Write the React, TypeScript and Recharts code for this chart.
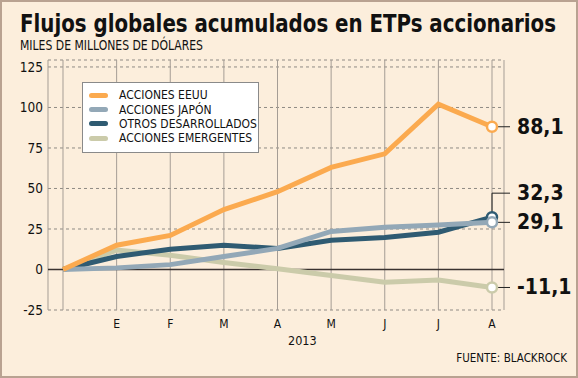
import React from 'react';
import {
  LineChart, Line, XAxis, YAxis, CartesianGrid, ReferenceLine
} from 'recharts';

const months = ['', 'E', 'F', 'M', 'A', 'M', 'J', 'J', 'A'];
const accionesEeuu = [0, 15, 21, 37, 48, 63, 71.4, 102, 88.1];
const accionesJapon = [0, 1, 3, 8, 13, 23.5, 26, 27.5, 29.1];
const otrosDesarrollados = [0, 8, 12.5, 15, 13, 18, 19.8, 23, 32.3];
const accionesEmergentes = [0, 12, 8.8, 4.3, 0.5, -3.7, -7.8, -6.5, -11.1];
const yTicks = [-25, 0, 25, 50, 75, 100, 125];

const FONT = '"DejaVu Sans Condensed", "DejaVu Sans", sans-serif';

// legend order (top to bottom)
const series = [
  { key: 'eeuu', name: 'ACCIONES EEUU', color: '#FBAA4F', values: accionesEeuu },
  { key: 'japon', name: 'ACCIONES JAPÓN', color: '#93A8B7', values: accionesJapon },
  { key: 'otros', name: 'OTROS DESARROLLADOS', color: '#2F5B72', values: otrosDesarrollados },
  { key: 'emerg', name: 'ACCIONES EMERGENTES', color: '#CBCBAA', values: accionesEmergentes },
];

const data = months.map((m, i) => {
  const row: Record<string, any> = { mes: m };
  series.forEach((s) => { row[s.key] = s.values[i]; });
  return row;
});

const fmt = (v: number) => v.toFixed(1).replace('.', ',');

// end marker + value label; "up" draws the leader going up first
const makeEndDot = (color: string, up: number) => (props: any) => {
  const { cx, cy, index, value } = props;
  if (index !== months.length - 1) return <g key={`d${index}`} />;
  const v = Array.isArray(value) ? value[1] : value;
  const ly = cy - up;
  return (
    <g key={`d${index}`}>
      {up === 0 ? (
        <line x1={cx + 5} y1={cy} x2={cx + 18} y2={cy} stroke="#222" strokeWidth={1} />
      ) : (
        <polyline points={`${cx},${cy - 5} ${cx},${ly} ${cx + 18},${ly}`} fill="none" stroke="#222" strokeWidth={1} />
      )}
      <circle cx={cx} cy={cy} r={5} fill="#fff" stroke={color} strokeWidth={2.5} />
      <text x={cx + 25} y={ly + 7} fontFamily={FONT} fontWeight="bold" fontSize={21} fill="#111">
        {fmt(v)}
      </text>
    </g>
  );
};

const LegendBox = () => (
  <div style={{
    position: 'absolute', left: 80, top: 80, boxSizing: 'border-box',
    background: '#fff', border: '1px solid #8a8a8a', width: 177, height: 71, paddingTop: 5,
    fontSize: 12, color: '#111'
  }}>
    {series.map((s) => (
      <div key={s.key} style={{ display: 'flex', alignItems: 'center', height: 14.4, whiteSpace: 'nowrap' }}>
        <span style={{ display: 'inline-block', width: 19, height: 5, borderRadius: 3, background: s.color, margin: '0 11px 0 6px' }} />
        <span>{s.name}</span>
      </div>
    ))}
  </div>
);

const drawOrder = ['emerg', 'otros', 'japon', 'eeuu'];
const upOffsets: Record<string, number> = { eeuu: 0, japon: 0, otros: 24, emerg: 0 };

export default function App() {
  return (
    <div style={{
      position: 'absolute', left: 0, top: 0, width: 578, height: 378, boxSizing: 'border-box',
      background: '#FCEEDC', border: '2px solid #B9A291', fontFamily: FONT, fontStretch: 'condensed',
      overflow: 'hidden'
    }}>
      <svg width={578} height={56} style={{ position: 'absolute', left: -2, top: -2 }}>
        <text x={20} y={32} textLength={536} lengthAdjust="spacingAndGlyphs"
          fontFamily={FONT} fontWeight="bold" fontSize={25} fill="#111">
          Flujos globales acumulados en ETPs accionarios
        </text>
        <text x={20} y={50} textLength={183} lengthAdjust="spacingAndGlyphs"
          fontFamily={FONT} fontSize={13.5} fill="#111">
          MILES DE MILLONES DE DÓLARES
        </text>
      </svg>
      <div style={{ position: 'absolute', left: -2, top: -2 }}>
        <LineChart width={578} height={378} data={data} margin={{ top: 60, right: 74, left: 0, bottom: 38 }}>
          <CartesianGrid vertical={false} stroke="#8f8a84" strokeDasharray="3 3" />
          <CartesianGrid horizontal={false} stroke="#a59d95" />
          <XAxis
            dataKey="mes" axisLine={false} tickLine={false} tickSize={0} tickMargin={9} height={30}
            padding={{ left: 15, right: 12 }} interval={0}
            tick={{ fill: '#111', fontSize: 12, fontFamily: FONT }}
          />
          <YAxis
            domain={[-25, 129.3]} ticks={yTicks} allowDataOverflow width={48}
            axisLine={false} tickLine={false} tickSize={0} tickMargin={5}
            tick={{ fill: '#111', fontSize: 13.5, fontFamily: FONT }}
          />
          <ReferenceLine y={0} stroke="#3a3330" strokeWidth={1.5} />
          {drawOrder.map((k) => {
            const s = series.find((x) => x.key === k)!;
            return (
              <Line
                key={s.key} dataKey={s.key} name={s.name} stroke={s.color} strokeWidth={5}
                type="linear" isAnimationActive={false}
                dot={makeEndDot(s.color, upOffsets[s.key])} activeDot={false}
              />
            );
          })}
        </LineChart>
      </div>
      <LegendBox />
      <div style={{ position: 'absolute', left: 286, top: 331, fontSize: 12.5, color: '#111' }}>2013</div>
      <div style={{ position: 'absolute', right: 9, top: 349, fontSize: 11.5, color: '#111' }}>FUENTE: BLACKROCK</div>
    </div>
  );
}
